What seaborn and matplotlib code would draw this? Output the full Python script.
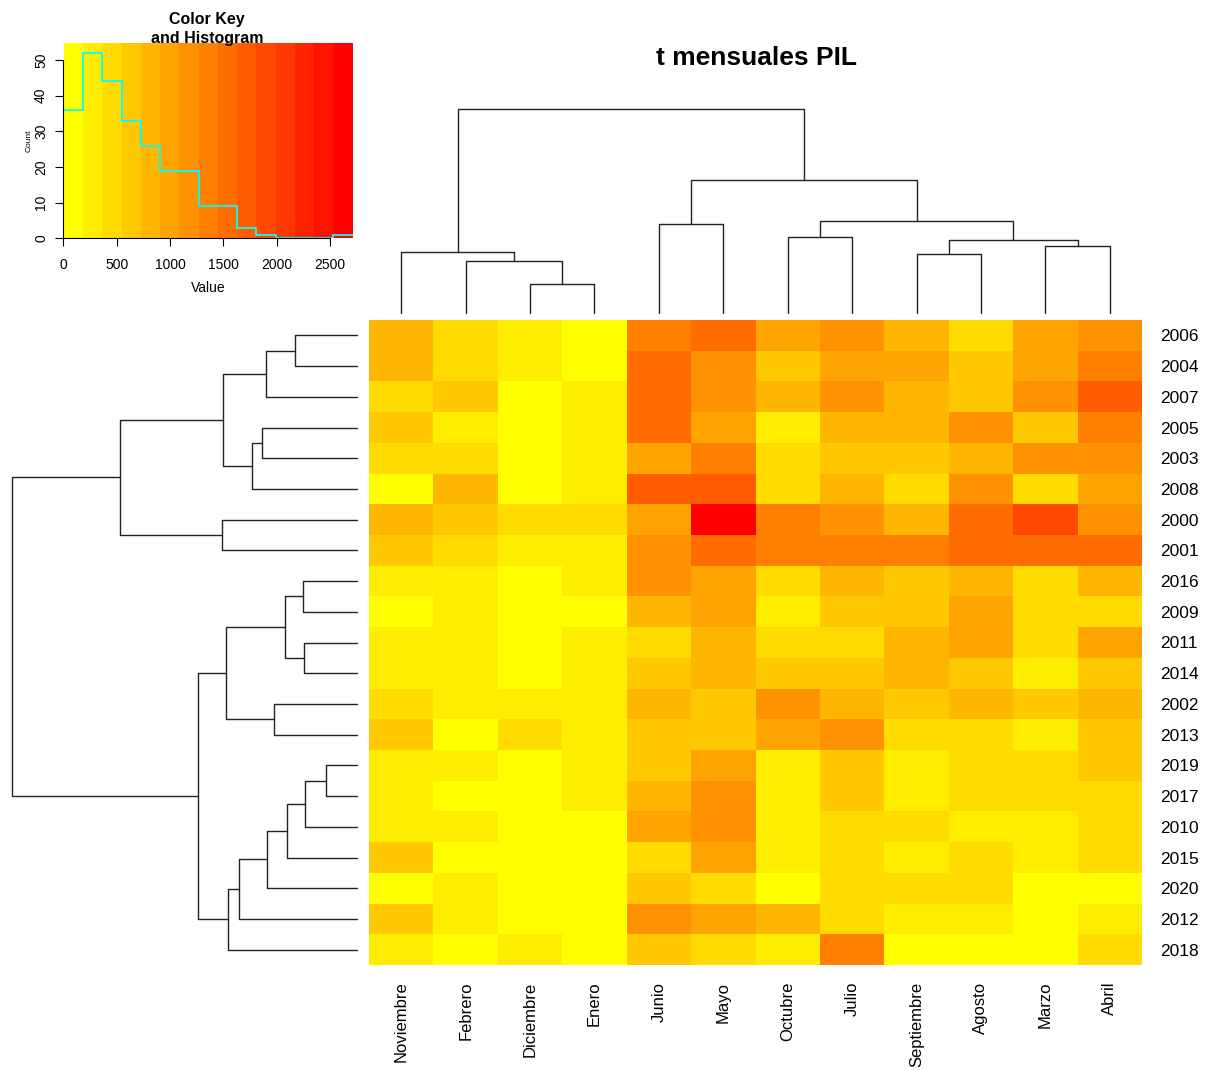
import matplotlib

matplotlib.use("Agg")
import matplotlib.pyplot as plt
import numpy as np
import pandas as pd
import seaborn as sns
from matplotlib.colors import ListedColormap

# Rows and columns in the order the dendrograms put them
years = ["2006", "2004", "2007", "2005", "2003", "2008", "2000", "2001",
         "2016", "2009", "2011", "2014", "2002", "2013", "2019", "2017",
         "2010", "2015", "2020", "2012", "2018"]
months = ["Noviembre", "Febrero", "Diciembre", "Enero", "Junio", "Mayo",
          "Octubre", "Julio", "Septiembre", "Agosto", "Marzo", "Abril"]

noviembre = [812, 768, 455, 640, 498, 96, 845, 702, 301, 152, 268, 247, 421,
             597, 330, 289, 234, 661, 58, 615, 276]
febrero = [472, 439, 583, 262, 510, 806, 654, 447, 318, 205, 287, 341, 229,
           112, 301, 138, 344, 75, 253, 296, 164]
diciembre = [287, 312, 120, 48, 91, 133, 406, 259, 63, 110, 37, 82, 326,
             398, 145, 29, 71, 104, 4, 57, 214]
enero = [85, 142, 236, 275, 331, 198, 427, 310, 262, 161, 339, 220, 280,
         247, 317, 193, 126, 47, 93, 168, 17]
junio = [1352, 1532, 1575, 1498, 1021, 1724, 983, 1186, 1245, 861, 486, 602,
         790, 688, 574, 833, 1047, 517, 655, 1128, 710]
mayo = [1540, 1175, 1212, 1063, 1341, 1690, 2713, 1587, 948, 1012, 757, 880,
        629, 701, 969, 1154, 1231, 1038, 453, 995, 512]
octubre = [1008, 596, 815, 226, 413, 502, 1374, 1296, 388, 243, 461, 633,
           1209, 1077, 305, 271, 348, 199, 131, 764, 322]
julio = [1193, 972, 1138, 778, 690, 871, 1107, 1415, 846, 619, 528, 566,
         798, 1262, 671, 587, 431, 394, 502, 468, 1401]
septiembre = [752, 1041, 799, 864, 613, 535, 887, 1329, 648, 697, 752, 809,
              578, 419, 264, 338, 476, 315, 389, 284, 118]
agosto = [410, 571, 705, 1163, 743, 1221, 1611, 1476, 866, 935, 1054, 688,
          874, 520, 448, 381, 356, 497, 437, 228, 77]
marzo = [954, 1027, 1259, 558, 1116, 379, 1893, 1515, 443, 485, 399, 292,
         594, 241, 512, 426, 335, 207, 154, 41, 99]
abril = [1235, 1386, 1766, 1310, 1192, 1050, 1170, 1552, 811, 539, 996, 702,
         893, 643, 609, 465, 533, 381, 26, 357, 490]

# Dendrogram merges: (left child, right child, height); leaves are 0..n-1
col_merges = [(2, 3, 29), (1, 12, 51.4), (0, 13, 60.4), (4, 5, 89),
              (6, 7, 75.4), (8, 9, 58.4), (10, 11, 66.4), (17, 18, 73),
              (16, 19, 91.4), (15, 20, 132.4), (14, 21, 203.7)]
row_merges = [(0, 1, 62), (21, 2, 90.4), (3, 4, 95), (23, 5, 105),
              (22, 24, 133.7), (6, 7, 134.7), (25, 26, 236.7), (8, 9, 54),
              (10, 11, 53), (28, 29, 72), (12, 13, 82.4), (30, 31, 131),
              (14, 15, 30.4), (33, 16, 51.7), (34, 17, 70), (35, 18, 89.4),
              (36, 19, 117.7), (37, 20, 129), (32, 38, 158.4),
              (27, 39, 344.7)]

colors = ["#FFFF00", "#FFED00", "#FFDB00", "#FFC800", "#FFB600", "#FFA400",
          "#FF9200", "#FF8000", "#FF6D00", "#FF5B00", "#FF4900", "#FF3700",
          "#FF2400", "#FF1200", "#FF0000"]

df = pd.DataFrame(
    np.column_stack([noviembre, febrero, diciembre, enero, junio, mayo,
                     octubre, julio, septiembre, agosto, marzo, abril]),
    index=years, columns=months)

W, H = 1207, 1071


def box(x0, y0, x1, y1):
    # pixel box (top-left origin) -> figure rect
    return [x0 / W, 1 - y1 / H, (x1 - x0) / W, (y1 - y0) / H]


def dendro_segments(merges, n):
    pos = {i: i + 0.5 for i in range(n)}
    hgt = {i: 0.0 for i in range(n)}
    segs = []
    for k, (a, b, h) in enumerate(merges):
        node = n + k
        segs.append(([pos[a], pos[a], pos[b], pos[b]],
                     [hgt[a], h, h, hgt[b]]))
        pos[node] = (pos[a] + pos[b]) / 2
        hgt[node] = h
    return segs


sns.set_style("white")
plt.rcParams["font.family"] = ["Liberation Sans", "DejaVu Sans"]
plt.rcParams["text.color"] = "black"
plt.rcParams["axes.labelcolor"] = "black"
plt.rcParams["xtick.color"] = "black"
plt.rcParams["ytick.color"] = "black"

fig = plt.figure(figsize=(W / 100, H / 100), dpi=100)
cmap = ListedColormap(colors)
vmin, vmax = df.values.min(), df.values.max()

# Heatmap
ax = fig.add_axes(box(369, 320, 1142, 965))
sns.heatmap(df, ax=ax, cmap=cmap, vmin=vmin, vmax=vmax, cbar=False,
            xticklabels=True, yticklabels=True)
ax.yaxis.tick_right()
ax.tick_params(axis="y", length=0, pad=13, labelsize=12.5, rotation=0)
ax.tick_params(axis="x", length=0, pad=12, labelsize=12, rotation=90)
ax.set_xlabel("")
ax.set_ylabel("")
for t in ax.get_yticklabels():
    t.set_ha("left")

# Column dendrogram
axc = fig.add_axes(box(369, 109, 1142, 312.7))
for xs, ys in dendro_segments(col_merges, len(months)):
    axc.plot(xs, ys, color="#222222", lw=1.0, clip_on=False)
axc.set_xlim(0, len(months))
axc.set_ylim(0, col_merges[-1][2])
axc.axis("off")

# Row dendrogram
axr = fig.add_axes(box(12, 320, 356.7, 965))
for xs, ys in dendro_segments(row_merges, len(years)):
    axr.plot(ys, xs, color="#222222", lw=1.0, clip_on=False)
axr.set_xlim(row_merges[-1][2], 0)
axr.set_ylim(len(years), 0)
axr.axis("off")

# Color key with histogram
axk = fig.add_axes(box(63.3, 42.7, 352.7, 238.3))
edges = np.linspace(vmin, vmax, len(colors) + 1)
counts, _ = np.histogram(df.values.ravel(), bins=edges)
ytop = counts.max() * 1.055
centers = (edges[:-1] + edges[1:]) / 2
axk.pcolormesh(edges, [0, ytop], centers[None, :], cmap=cmap,
               vmin=vmin, vmax=vmax)
axk.stairs(counts, edges, baseline=None, color="cyan", lw=1.3)
axk.set_xlim(vmin, vmax)
axk.set_ylim(0, ytop)
axk.set_xticks([0, 500, 1000, 1500, 2000, 2500])
axk.set_yticks([0, 10, 20, 30, 40, 50])
for lab in axk.get_yticklabels():
    lab.set_rotation(90)
    lab.set_va("center")
axk.tick_params(direction="out", length=6, width=0.8, labelsize=10,
                color="black", bottom=True, left=True)
axk.tick_params(axis="x", pad=8)
axk.tick_params(axis="y", pad=5)
for side in ("top", "right"):
    axk.spines[side].set_visible(False)
axk.spines["left"].set_bounds(0, 50)
axk.spines["bottom"].set_bounds(0, 2500)
for side in ("left", "bottom"):
    axk.spines[side].set_color("black")
    axk.spines[side].set_linewidth(0.8)
axk.set_xlabel("Value", fontsize=10, labelpad=7)
axk.set_ylabel("Count", fontsize=6, labelpad=1)

fig.text(207 / W, 1 - 29 / H, "Color Key\nand Histogram", ha="center",
         va="center", fontsize=11.5, fontweight="bold", linespacing=1.3)
fig.text(756 / W, 1 - 58 / H, "t mensuales PIL", ha="center", va="center",
         fontsize=19, fontweight="bold")

fig.savefig("out.png", dpi=100, facecolor="white")
